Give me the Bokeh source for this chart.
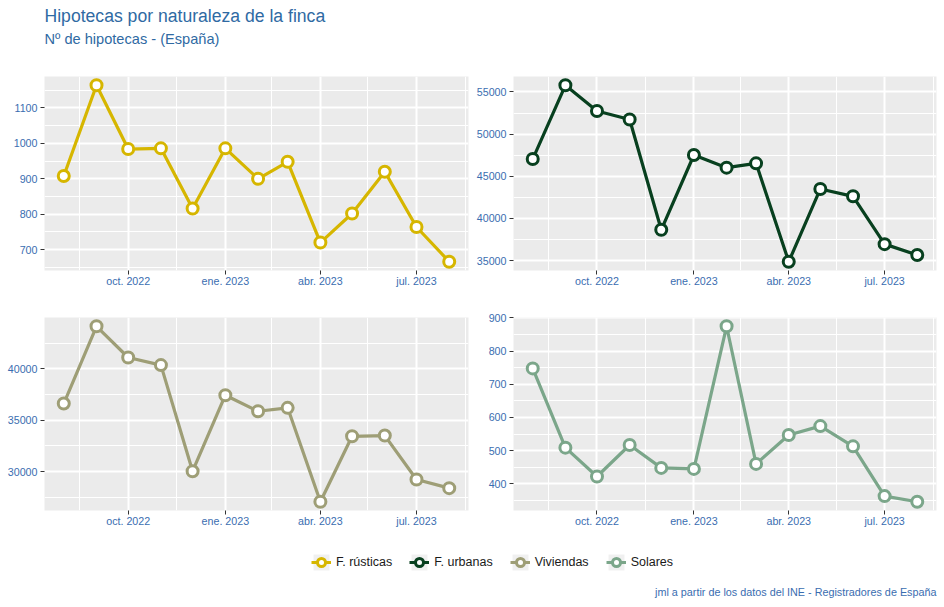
import pandas as pd
from bokeh.plotting import figure
from bokeh.layouts import column, row
from bokeh.models import Range1d, FixedTicker, NumeralTickFormatter, Legend, LegendItem, ColumnDataSource
from bokeh.core.properties import value
from bokeh.embed import file_html
from bokeh.resources import INLINE

# ---------------- data ----------------
months = ["2022-08-01", "2022-09-01", "2022-10-01", "2022-11-01", "2022-12-01",
          "2023-01-01", "2023-02-01", "2023-03-01", "2023-04-01", "2023-05-01",
          "2023-06-01", "2023-07-01", "2023-08-01"]
rusticas = [908, 1164, 984, 986, 816, 986, 900, 948, 720, 802, 920, 764, 666]
urbanas = [47050, 55790, 52750, 51740, 38660, 47530, 46030, 46540, 34880, 43500, 42630, 36960, 35670]
viviendas = [36620, 44140, 41100, 40360, 30030, 37430, 35870, 36200, 27060, 33430, 33500, 29220, 28380]
solares = [748, 509, 422, 517, 448, 445, 875, 460, 547, 574, 513, 363, 346]

series_names = ["F. rústicas", "F. urbanas", "Viviendas", "Solares"]
series_colors = ["#D6B600", "#08401F", "#9E9E76", "#7BA68A"]

x_tick_dates = ["2022-10-01", "2023-01-01", "2023-04-01", "2023-07-01"]
x_tick_labels = ["oct. 2022", "ene. 2023", "abr. 2023", "jul. 2023"]
x_minor_dates = ["2022-08-16", "2022-11-16", "2023-02-14", "2023-05-16", "2023-08-16"]

y_ticks_rusticas = [700, 800, 900, 1000, 1100]
y_ticks_urbanas = [35000, 40000, 45000, 50000, 55000]
y_ticks_viviendas = [30000, 35000, 40000]
y_ticks_solares = [400, 500, 600, 700, 800, 900]

title_text = "Hipotecas por naturaleza de la finca"
subtitle_text = "Nº de hipotecas - (España)"
caption_text = "jml a partir de los datos del INE - Registradores de España"

# ---------------- style ----------------
FONT = "Liberation Sans"
TITLE_COLOR = "#2F6AA3"
LABEL_COLOR = "#3A6DB0"
PANEL_BG = "#EBEBEB"
NAN = float("nan")


def ms(d):
    return int(pd.Timestamp(d).value // 10**6)


dates = pd.to_datetime(months)
x_first, x_last = ms(months[0]), ms(months[-1])
x_pad = 0.05 * (x_last - x_first)
major_x = [ms(d) for d in x_tick_dates]
minor_x = [ms(d) for d in x_minor_dates]
x_overrides = {ms(d): lab for d, lab in zip(x_tick_dates, x_tick_labels)}


def minor_of(ticks):
    step = ticks[1] - ticks[0]
    return [t - step / 2 for t in ticks] + [ticks[-1] + step / 2]


def panel(vals, color, yticks, width, height, bl, br, bt, bb):
    lo, hi = min(vals), max(vals)
    pad = 0.05 * (hi - lo)
    p = figure(width=width, height=height, x_axis_type="datetime",
               x_range=Range1d(x_first - x_pad, x_last + x_pad),
               y_range=Range1d(lo - pad, hi + pad),
               output_backend="svg", toolbar_location=None,
               min_border_left=bl, min_border_right=br,
               min_border_top=bt, min_border_bottom=bb)
    p.background_fill_color = PANEL_BG
    p.border_fill_color = "white"
    p.outline_line_color = None

    xt = FixedTicker(ticks=major_x, minor_ticks=minor_x)
    yt = FixedTicker(ticks=yticks, minor_ticks=minor_of(yticks))
    p.xaxis.ticker = xt
    p.xgrid.ticker = xt
    p.yaxis.ticker = yt
    p.ygrid.ticker = yt
    p.xaxis.major_label_overrides = x_overrides
    p.yaxis.formatter = NumeralTickFormatter(format="0")

    for ax in (p.xaxis[0], p.yaxis[0]):
        ax.axis_line_color = None
        ax.major_tick_line_color = "#333333"
        ax.major_tick_line_width = 1
        ax.major_tick_out = 4
        ax.major_tick_in = 0
        ax.minor_tick_out = 0
        ax.minor_tick_in = 0
        ax.major_label_text_font = FONT
        ax.major_label_text_font_size = "10.7px"
        ax.major_label_text_color = LABEL_COLOR
    p.xaxis.major_label_standoff = 0
    p.yaxis.major_label_standoff = 3
    for g in (p.xgrid[0], p.ygrid[0]):
        g.grid_line_color = "white"
        g.grid_line_width = 2
        g.minor_grid_line_color = "white"
        g.minor_grid_line_width = 1

    src = ColumnDataSource(dict(x=dates, y=vals))
    p.line("x", "y", source=src, line_color=color, line_width=3.2)
    p.scatter("x", "y", source=src, size=11, fill_color="white",
              line_color=color, line_width=3)
    return p


# header 0..60 ; top row 60..300 ; bottom row 300..530 ; footer 530..607
p_rus = panel(rusticas, series_colors[0], y_ticks_rusticas, 470, 240, 44, 2, 16, 30)
p_urb = panel(urbanas, series_colors[1], y_ticks_urbanas, 474, 240, 43, 8, 16, 30)
p_viv = panel(viviendas, series_colors[2], y_ticks_viviendas, 470, 230, 44, 2, 17, 20)
p_sol = panel(solares, series_colors[3], y_ticks_solares, 474, 230, 43, 8, 17, 20)

# ---------------- header ----------------
HW, HH = 944, 60
header = figure(width=HW, height=HH, x_range=Range1d(0, HW), y_range=Range1d(HH, 0),
                output_backend="svg", toolbar_location=None, min_border=0,
                x_axis_location=None, y_axis_location=None)
header.outline_line_color = None
header.grid.visible = False
header.text(x=[44], y=[15], text=[title_text], text_font=value(FONT),
            text_font_size="17.6px", text_color=TITLE_COLOR,
            text_baseline="middle", text_align="left")
header.text(x=[44], y=[38], text=[subtitle_text], text_font=value(FONT),
            text_font_size="14.6px", text_color=TITLE_COLOR,
            text_baseline="middle", text_align="left")

# ---------------- footer (legend + caption) ----------------
FW, FH = 944, 77
footer = figure(width=FW, height=FH, x_range=Range1d(0, FW), y_range=Range1d(FH, 0),
                output_backend="svg", toolbar_location=None, min_border=0,
                x_axis_location=None, y_axis_location=None)
footer.outline_line_color = None
footer.grid.visible = False

items = []
for name, color in zip(series_names, series_colors):
    rr = footer.rect(x=[NAN], y=[NAN], width=1, height=1, fill_color="#F0F0F0", line_color=None)
    lr = footer.line(x=[NAN], y=[NAN], line_color=color, line_width=3)
    sr = footer.scatter(x=[NAN], y=[NAN], size=8, fill_color="white", line_color=color, line_width=3)
    items.append(LegendItem(label=name, renderers=[rr, lr, sr]))

legend = Legend(items=items, orientation="horizontal", location=(311, 35),
                padding=0, margin=0, spacing=17, glyph_width=20, glyph_height=20,
                label_standoff=5, border_line_color=None, background_fill_alpha=0,
                label_text_font=FONT, label_text_font_size="12.5px",
                label_text_color="#1A1A1A")
footer.add_layout(legend)

footer.text(x=[936], y=[61], text=[caption_text], text_font=value(FONT),
            text_font_size="10.8px", text_color=LABEL_COLOR,
            text_baseline="middle", text_align="right")

layout = column(header, row(p_rus, p_urb), row(p_viv, p_sol), footer)

with open("out.html", "w") as f:
    f.write(file_html(layout, INLINE))
